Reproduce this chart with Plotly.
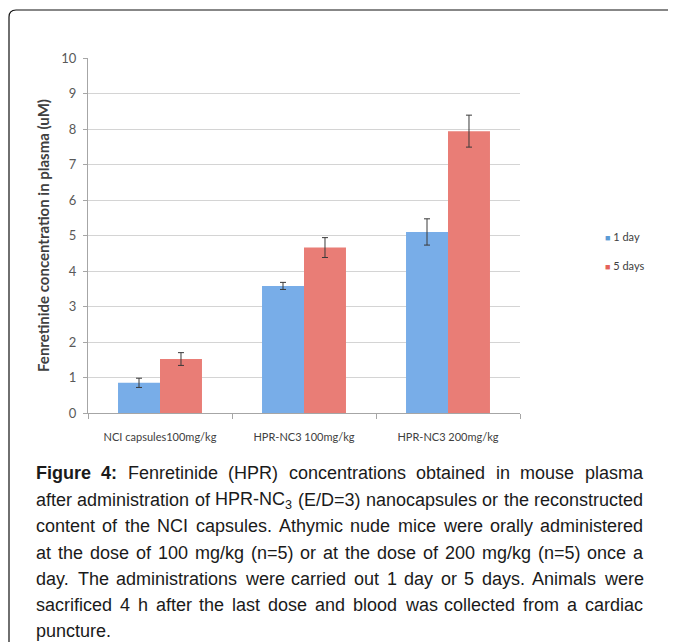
import re
import plotly.graph_objects as go

# chart data
categories = ["NCI capsules100mg/kg", "HPR-NC3 100mg/kg", "HPR-NC3 200mg/kg"]
series_names = ["1 day", "5 days"]
day1_values = [0.85, 3.58, 5.10]
day1_errors = [0.13, 0.10, 0.37]
day5_values = [1.52, 4.66, 7.94]
day5_errors = [0.18, 0.28, 0.45]
y_ticks = list(range(0, 11))

caption_lines = [
    "<b>Figure</b> <b>4:</b> Fenretinide (HPR) concentrations obtained in mouse plasma",
    "after administration of HPR-NC<sub>3</sub> (E/D=3) nanocapsules or the reconstructed",
    "content of the NCI capsules. Athymic nude mice were orally administered",
    "at the dose of 100 mg/kg (n=5) or at the dose of 200 mg/kg (n=5) once a",
    "day. The administrations were carried out 1 day or 5 days. Animals were",
    "sacrificed 4 h after the last dose and blood was collected from a cardiac",
    "puncture.",
]

# the page body adds an 8px margin, so the figure sits at (8, 8) in the window
OFF = 8
W, H = 676 - OFF, 642 - OFF
ML, MT = 88 - OFF, 58 - OFF
MR, MB = W - (520 - OFF), H - (413 - OFF)
PW, PH = W - ML - MR, H - MT - MB


def px(x):
    return (x - OFF - ML) / PW


def py(y):
    return (H - MB - (y - OFF)) / PH


# Arial / Liberation Sans advance widths (per 1000 em), used to justify the caption
REG = dict(zip("abcdefghijklmnopqrstuvwxyz",
               [556, 556, 500, 556, 556, 278, 556, 556, 222, 222, 500, 222, 833,
                556, 556, 556, 556, 333, 500, 278, 556, 500, 722, 500, 500, 500]))
REG.update({"A": 667, "C": 722, "D": 722, "E": 667, "F": 611, "H": 722, "I": 278,
            "N": 722, "P": 667, "R": 722, "T": 611, "(": 333, ")": 333, "-": 333,
            "/": 278, "=": 584, ".": 278, ":": 278, ",": 278})
REG.update({d: 556 for d in "0123456789"})
BOLD = {"F": 611, "i": 278, "g": 611, "u": 611, "r": 389, "e": 556, "4": 556, ":": 333}
FS = 18


def word_width(w):
    bold = w.startswith("<b>")
    s = re.sub(r"</?b>", "", w)
    total, sub = 0, False
    for p in re.split(r"(</?sub>)", s):
        if p == "<sub>":
            sub = True
            continue
        if p == "</sub>":
            sub = False
            continue
        for ch in p:
            total += (BOLD if bold else REG).get(ch, 556) * (0.7 if sub else 1)
    return total / 1000 * FS


blue = "#78ade8"
red = "#e97d76"

fig = go.Figure()
fig.add_trace(go.Bar(x=categories, y=day1_values, name=series_names[0],
                     marker=dict(color=blue, line=dict(width=0)),
                     error_y=dict(type="data", array=day1_errors, color="#3a3a3a",
                                  thickness=1, width=3)))
fig.add_trace(go.Bar(x=categories, y=day5_values, name=series_names[1],
                     marker=dict(color=red, line=dict(width=0)),
                     error_y=dict(type="data", array=day5_errors, color="#3a3a3a",
                                  thickness=1, width=3)))

fig.update_layout(
    width=W, height=H, margin=dict(l=ML, r=MR, t=MT, b=MB),
    paper_bgcolor="white", plot_bgcolor="white",
    barmode="group", bargap=0.417, bargroupgap=0,
    showlegend=False,
    font=dict(family="Lato", color="#404040"),
)
fig.update_xaxes(showline=True, linecolor="#a6a6a6", linewidth=1,
                 ticks="outside", tickson="boundaries", ticklen=5, tickcolor="#a6a6a6",
                 tickfont=dict(size=11, color="#404040"), ticklabelstandoff=14,
                 showgrid=False)
fig.update_yaxes(range=[0, 10], tickvals=y_ticks, showline=True, linecolor="#a6a6a6",
                 linewidth=1, ticks="outside", ticklen=4, tickcolor="#a6a6a6",
                 tickfont=dict(size=13, color="#595959"), ticklabelstandoff=4,
                 showgrid=True, gridcolor="#d4d4d4", gridwidth=1.3, zeroline=False,
                 title=dict(text="<b>Fenretinide concentration in plasma (uM)</b>",
                            font=dict(size=15, color="#404040"), standoff=8))

# legend drawn as annotations (small square markers like the original)
for name, col, yy in [(series_names[0], "#5b9bd5", 236), (series_names[1], "#e5625a", 265)]:
    fig.add_annotation(x=px(603), y=py(yy), xref="paper", yref="paper",
                       xanchor="left", yanchor="middle", showarrow=False,
                       text=f'<span style="color:{col};font-size:9px">■</span> {name}',
                       font=dict(family="Lato", size=11, color="#404040"))

# frame around the figure (rounded top-left corner)
fig.add_shape(type="path", xref="paper", yref="paper",
              path=(f"M {px(9)},{py(660)} L {px(9)},{py(17)} "
                    f"Q {px(9)},{py(10)} {px(16)},{py(10)} L {px(700)},{py(10)}"),
              line=dict(color="#111111", width=1.2))

# justified caption
left, right = 35, 642
line_y = [473, 500, 526, 553, 579, 605, 631]
for i, line in enumerate(caption_lines):
    words = line.split(" ")
    widths = [word_width(w) for w in words]
    last = i == len(caption_lines) - 1
    gap = 5.0 if last else (right - left - sum(widths)) / (len(words) - 1)
    x = left
    for w, wd in zip(words, widths):
        fig.add_annotation(x=px(x), y=py(line_y[i]), xref="paper", yref="paper",
                           xanchor="left", yanchor="middle", showarrow=False,
                           borderpad=0, text=w,
                           font=dict(family="Liberation Sans", size=FS, color="#1a1a1a"))
        x += wd + gap

fig.write_html("out.html")
